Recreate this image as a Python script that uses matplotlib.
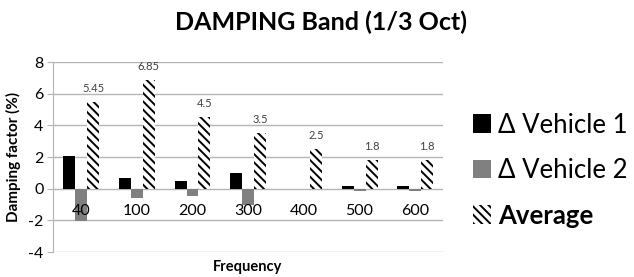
import numpy as np
import matplotlib.pyplot as plt

plt.rcParams["font.family"] = ["Lato", "DejaVu Sans"]
plt.rcParams["hatch.linewidth"] = 1.4

# chart data
frequencies = ["40", "100", "200", "300", "400", "500", "600"]
vehicle1 = [2.05, 0.7, 0.5, 1.0, 0.0, 0.2, 0.2]
vehicle2 = [-2.05, -0.6, -0.45, -1.0, 0.0, -0.15, -0.15]
average = [5.45, 6.85, 4.5, 3.5, 2.5, 1.8, 1.8]
yticks = [-4, -2, 0, 2, 4, 6, 8]

fig = plt.figure(figsize=(6.34, 2.77), dpi=100)
ax = fig.add_axes([0.084, 0.09, 0.615, 0.686])

x = np.arange(len(frequencies))
w = 0.215
ax.bar(x - w, vehicle1, w, color="black", label="\u0394 Vehicle 1", zorder=3)
ax.bar(x, vehicle2, w, color="#808080", label="\u0394 Vehicle 2", zorder=3)
bars = ax.bar(x + w, average, w, color="white", edgecolor="black",
              hatch="\\\\\\\\", linewidth=0, label="Average", zorder=3)
for rect, v in zip(bars, average):
    ax.annotate(f"{v:g}", (rect.get_x() + rect.get_width() / 2, v),
                xytext=(0, 10), textcoords="offset points", ha="center",
                va="center", fontsize=8, color="#404040")

ax.set_ylim(-4, 8)
ax.set_xlim(-0.5, len(frequencies) - 0.5)
ax.set_yticks(yticks)
ax.set_yticklabels([str(t) for t in yticks], fontsize=11.5)
ax.grid(axis="y", color="#b4b4b4", linewidth=1.0, zorder=0)

for s in ["top", "right"]:
    ax.spines[s].set_visible(False)
ax.spines["left"].set_color("#b4b4b4")
ax.spines["bottom"].set_position(("data", 0))
ax.spines["bottom"].set_visible(False)
ax.set_xticks(x)
ax.set_xticklabels(frequencies, fontsize=11.5)
ax.xaxis.set_zorder(4)  # category labels sit on top of the bars, as in Excel
ax.tick_params(axis="x", length=0, pad=11)
ax.tick_params(axis="y", length=4, color="#b4b4b4", pad=3)

ax.set_ylabel("Damping factor (%)", fontsize=11, fontweight="bold")
ax.yaxis.set_label_coords(-0.082, 0.5)
fig.text(0.39, 0.036, "Frequency", ha="center", va="center",
         fontsize=10.5, fontweight="bold")
fig.text(0.507, 0.92, "DAMPING Band (1/3 Oct)", ha="center", va="center",
         fontsize=18, fontweight="bold")

leg = fig.legend(loc="center left", bbox_to_anchor=(0.746, 0.386), frameon=False,
                 fontsize=18.5, handlelength=0.72, handleheight=0.72,
                 handletextpad=0.25, labelspacing=0.8, borderpad=0,
                 borderaxespad=0)
leg.get_texts()[2].set_fontweight("bold")

fig.savefig("out.png", dpi=100)
